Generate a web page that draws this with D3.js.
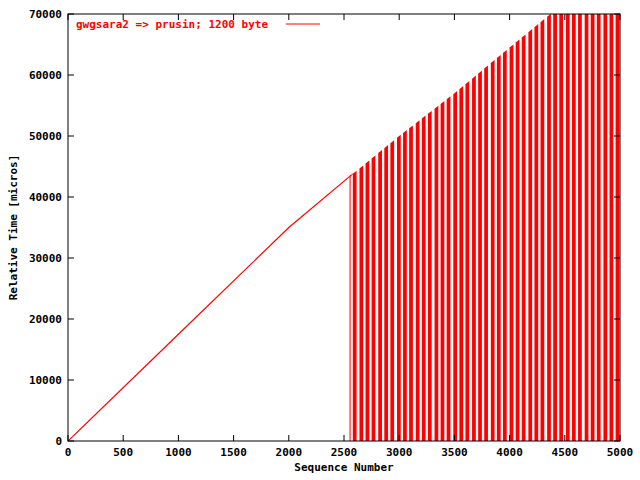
<!DOCTYPE html>
<html><head><meta charset="utf-8">
<script src="https://cdn.jsdelivr.net/npm/d3@7"></script>
<style>body{margin:0;background:#fff}text{font-family:"DejaVu Sans Mono",monospace;font-weight:bold;font-size:11px}</style>
</head><body><div id="chart"></div>
<script>
// trend of the timing curve (seq -> micros)
const lineSeq = [0, 1000, 2000, 2560, 3000, 3500, 4000, 4370, 5000];
const lineVal = [0, 17500, 35000, 43500, 50000, 57000, 64500, 70000, 79000];
// start of each dropout stripe (seq), stripes fall to 0
const barStarts = [2580,2640,2695,2750,2810,2865,2920,2980,3035,3090,3150,3205,3260,3320,3375,3430,3490,3545,3600,3660,3715,3770,3830,3885,3940,4000,4055,4110,4170,4225,4280,4340,4395,4450,4510,4565,4620,4680,4735,4790,4850,4905,4960];
const barWidth = 34;
const xTicks = [0,500,1000,1500,2000,2500,3000,3500,4000,4500,5000];
const yTicks = [0,10000,20000,30000,40000,50000,60000,70000];

const W = 640, H = 480, m = {left:68, right:20, top:14, bottom:39};
const svg = d3.select("#chart").append("svg").attr("width",W).attr("height",H);
const x = d3.scaleLinear().domain([0,5000]).range([m.left, W-m.right]);
const y = d3.scaleLinear().domain([0,70000]).range([H-m.bottom, m.top]);
const curve = d3.scaleLinear().domain(lineSeq).range(lineVal);
const clip = svg.append("clipPath").attr("id","c").append("rect")
  .attr("x",m.left).attr("y",m.top).attr("width",W-m.left-m.right).attr("height",H-m.top-m.bottom);
const g = svg.append("g").attr("clip-path","url(#c)");

g.append("path").datum(lineSeq.filter(s=>s<=2570).concat([2570]))
  .attr("fill","none").attr("stroke","#f00").attr("stroke-width",1.2)
  .attr("d", d3.line().x(d=>x(d)).y(d=>y(curve(d))));
g.append("line").attr("x1",x(2555)).attr("x2",x(2555)).attr("y1",y(curve(2555))).attr("y2",y(0)).attr("stroke","#f00");
g.selectAll(".bar").data(barStarts).enter().append("path").attr("fill","#f00")
  .attr("d", s => {
    const e = Math.min(s+barWidth, 5000);
    return `M${x(s)},${y(0)}L${x(s)},${y(curve(s))}L${x(e)},${y(curve(e))}L${x(e)},${y(0)}Z`;
  });
g.append("path").datum([2570,2580])
  .attr("fill","none").attr("stroke","#f00").attr("d", d3.line().x(d=>x(d)).y(d=>y(curve(d))));

// frame and ticks (gnuplot style, inward and mirrored)
svg.append("rect").attr("x",m.left).attr("y",m.top).attr("width",W-m.left-m.right).attr("height",H-m.top-m.bottom)
  .attr("fill","none").attr("stroke","#000");
const ax = svg.append("g").attr("stroke","#000");
xTicks.forEach(t=>{
  ax.append("line").attr("x1",x(t)).attr("x2",x(t)).attr("y1",y(0)).attr("y2",y(0)-6);
  ax.append("line").attr("x1",x(t)).attr("x2",x(t)).attr("y1",m.top).attr("y2",m.top+6);
  svg.append("text").attr("x",x(t)).attr("y",y(0)+15).attr("text-anchor","middle").text(t);
});
yTicks.forEach(t=>{
  ax.append("line").attr("x1",m.left).attr("x2",m.left+6).attr("y1",y(t)).attr("y2",y(t));
  ax.append("line").attr("x1",W-m.right).attr("x2",W-m.right-6).attr("y1",y(t)).attr("y2",y(t));
  svg.append("text").attr("x",m.left-6).attr("y",y(t)+4).attr("text-anchor","end").text(t);
});
svg.append("text").attr("x",(m.left+W-m.right)/2).attr("y",H-9).attr("text-anchor","middle").text("Sequence Number");
svg.append("text").attr("transform",`translate(17,${(m.top+H-m.bottom)/2}) rotate(-90)`).attr("text-anchor","middle").text("Relative Time [micros]");
// legend
svg.append("text").attr("x",76).attr("y",28).attr("fill","#f00").text("gwgsara2 => prusin; 1200 byte");
svg.append("line").attr("x1",286).attr("x2",320).attr("y1",24).attr("y2",24).attr("stroke","#f00");
</script></body></html>
